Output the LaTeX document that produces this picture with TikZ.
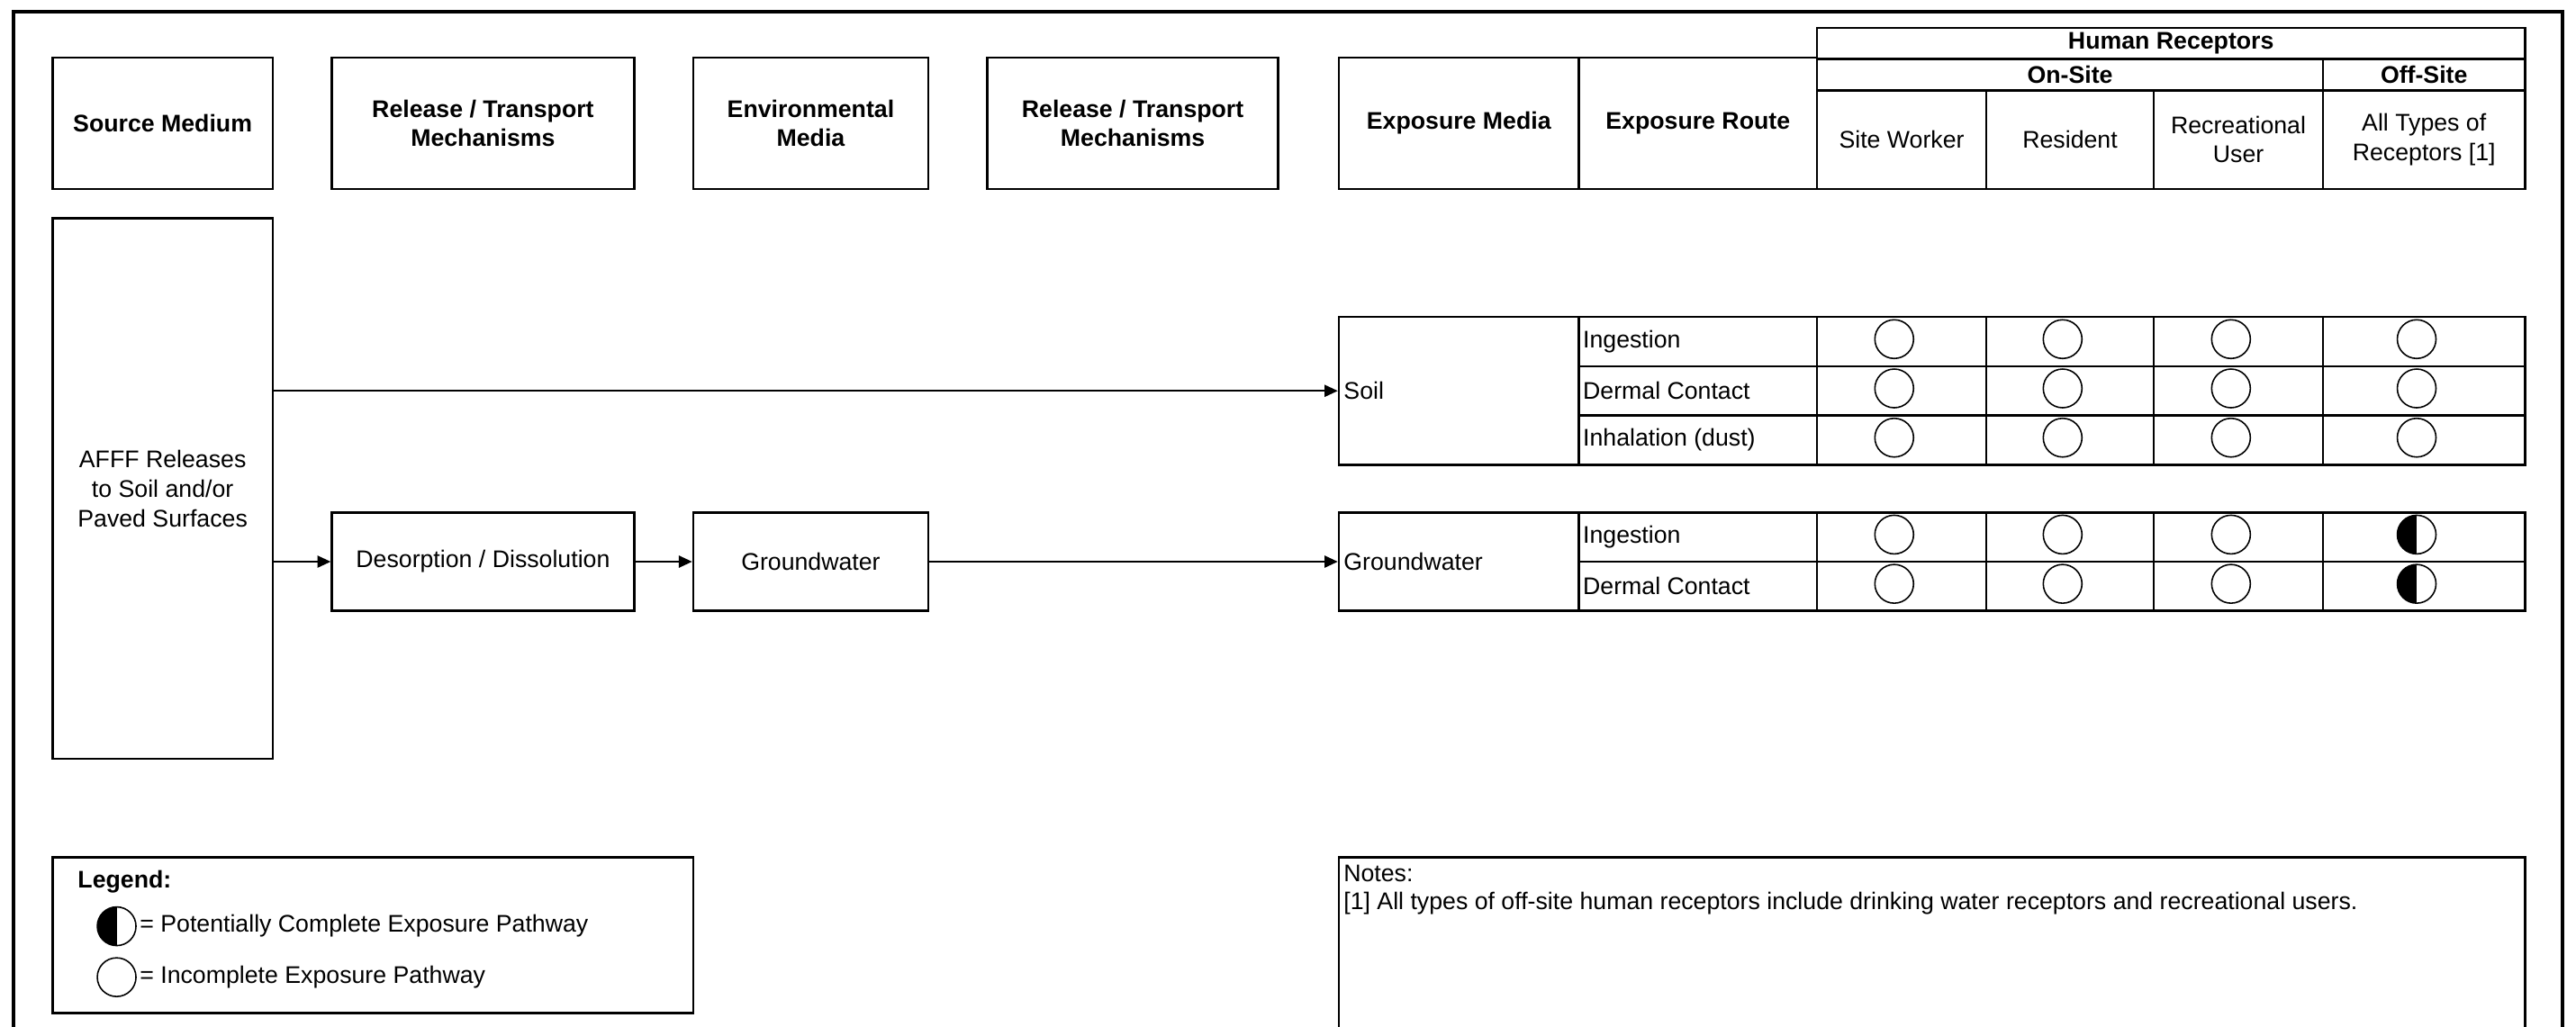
\documentclass[tikz,border=0pt]{standalone}
\usepackage{fontspec}
\setmainfont{Liberation Sans}
\usetikzlibrary{calc,arrows.meta}

\begin{document}
\begin{tikzpicture}[x=0.018246cm,y=-0.018246cm,
  every node/.style={font=\fontsize{7.6}{9.3}\selectfont},
  cell/.style n args={4}{at={({0.5*(#1)+0.5*(#3)},{0.5*(#2)+0.5*(#4)})},minimum width={((#3)-(#1))*0.018246cm},minimum height={((#4)-(#2))*0.018246cm}},
  box/.style={draw,line width=0.75pt,inner sep=0pt,align=center},
  hbox/.style={box,font=\fontsize{7.6}{9.3}\selectfont\bfseries},
  txt/.style={anchor=west,inner sep=0pt},
  arr/.style={line width=0.5pt,-{Triangle[length=4.2pt,width=3.8pt]}},
  nopath/.style={circle,draw,line width=0.45pt,minimum size=0.43cm,inner sep=0pt},
  halfpath/.style={nopath,path picture={\fill (path picture bounding box.south west) rectangle (path picture bounding box.north);}}]
\useasboundingbox (0,0) rectangle (1568,625);
\clip (0,0) rectangle (1568,625);
% frame
\draw [line width=1.15pt] (8,700) -- (8,7) -- (1560,7) -- (1560,700);

% column heads
\node [hbox,cell={32}{35}{166}{115}] (src) {Source Medium};
\node [hbox,cell={202}{35}{386}{115}] (rel1) {Release / Transport\\Mechanisms};
\node [hbox,cell={422}{35}{565}{115}] (env) {Environmental\\Media};
\node [hbox,cell={601}{35}{778}{115}] (rel2) {Release / Transport\\Mechanisms};
\node [hbox,cell={815}{35}{961}{115}] (hmed) {Exposure Media};
\node [hbox,cell={961}{35}{1106}{115}] (hroute) {Exposure Route};
\node [hbox,cell={1106}{17}{1537}{36}] (hhum) {Human Receptors};
\node [hbox,cell={1106}{36}{1414}{55}] (hon) {On-Site};
\node [hbox,cell={1414}{36}{1537}{55}] (hoff) {Off-Site};
\node [box,cell={1106}{55}{1209}{115}] (hsw) {Site Worker};
\node [box,cell={1209}{55}{1311}{115}] (hres) {Resident};
\node [box,cell={1311}{55}{1414}{115}] (hrec) {Recreational\\User};
\node [box,cell={1414}{55}{1537}{115}] (hall) {All Types of\\Receptors [1]};

% source and transport
\node [box,cell={32}{133}{166}{462}] (afff) {AFFF Releases\\to Soil and/or\\Paved Surfaces};
\node [box,cell={202}{312}{386}{372}] (deso) {Desorption / Dissolution};
\node [box,cell={422}{312}{565}{372}] (gw) {Groundwater};

% soil rows
\node [box,cell={815}{193}{961}{283}] (soil) {};
\node [txt] (soiltxt) at ([xshift=1.7pt]soil.west) {Soil};
\foreach \y/\r [count=\i] in {193/Ingestion,223/Dermal Contact,253/{Inhalation (dust)}} {
  \node [box,cell={961}{\y}{1106}{\y+30}] (sr\i) {};
  \node [txt] (srt\i) at ([xshift=1.5pt]sr\i.west) {\r};
  \foreach \xa/\xb/\st [count=\j] in {1106/1209/nopath,1209/1311/nopath,1311/1414/nopath,1414/1537/nopath} {
    \node [box,cell={\xa}{\y}{\xb}{\y+30}] (sr\i-\j) {};
    \node [\st] (cs\i-\j) at ($(sr\i-\j.center)+(-4.5,-1.5)$) {};
  }
}

% groundwater rows
\node [box,cell={815}{312}{961}{372}] (gwm) {};
\node [txt] (gwmtxt) at ([xshift=1.7pt]gwm.west) {Groundwater};
\foreach \y/\r [count=\i] in {312/Ingestion,342/Dermal Contact} {
  \node [box,cell={961}{\y}{1106}{\y+30}] (gr\i) {};
  \node [txt] (grt\i) at ([xshift=1.5pt]gr\i.west) {\r};
  \foreach \xa/\xb/\st [count=\j] in {1106/1209/nopath,1209/1311/nopath,1311/1414/nopath,1414/1537/halfpath} {
    \node [box,cell={\xa}{\y}{\xb}{\y+30}] (gr\i-\j) {};
    \node [\st] (cg\i-\j) at ($(gr\i-\j.center)+(-4.5,-1.5)$) {};
  }
}

% pathways
\draw [arr] (afff.east |- soil.west) -- (soil.west);
\draw [arr] (afff.east |- deso.west) -- (deso.west);
\draw [arr] (deso) -- (gw);
\draw [arr] (gw) -- (gwm);

% legend
\node [box,cell={32}{522}{422}{617}] (legend) {};
\node [txt,font=\fontsize{7.6}{9.3}\selectfont\bfseries] (legtitle) at (47,537) {Legend:};
\node [halfpath] (leghalf) at (71,564) {};
\node [txt] (legpc) at ([xshift=0.8pt]leghalf.east) {= Potentially Complete Exposure Pathway};
\node [nopath] (legno) at (71,595) {};
\node [txt] (legin) at ([xshift=0.8pt]legno.east) {= Incomplete Exposure Pathway};

% notes
\draw [line width=0.75pt] (815,700) -- (815,522) -- (1537,522) -- (1537,700);
\node [txt] (notehd) at (817.5,532) {Notes:};
\node [txt] (note1) at (817.5,550) {[1] All types of off-site human receptors include drinking water receptors and recreational users.};
\end{tikzpicture}
\end{document}
